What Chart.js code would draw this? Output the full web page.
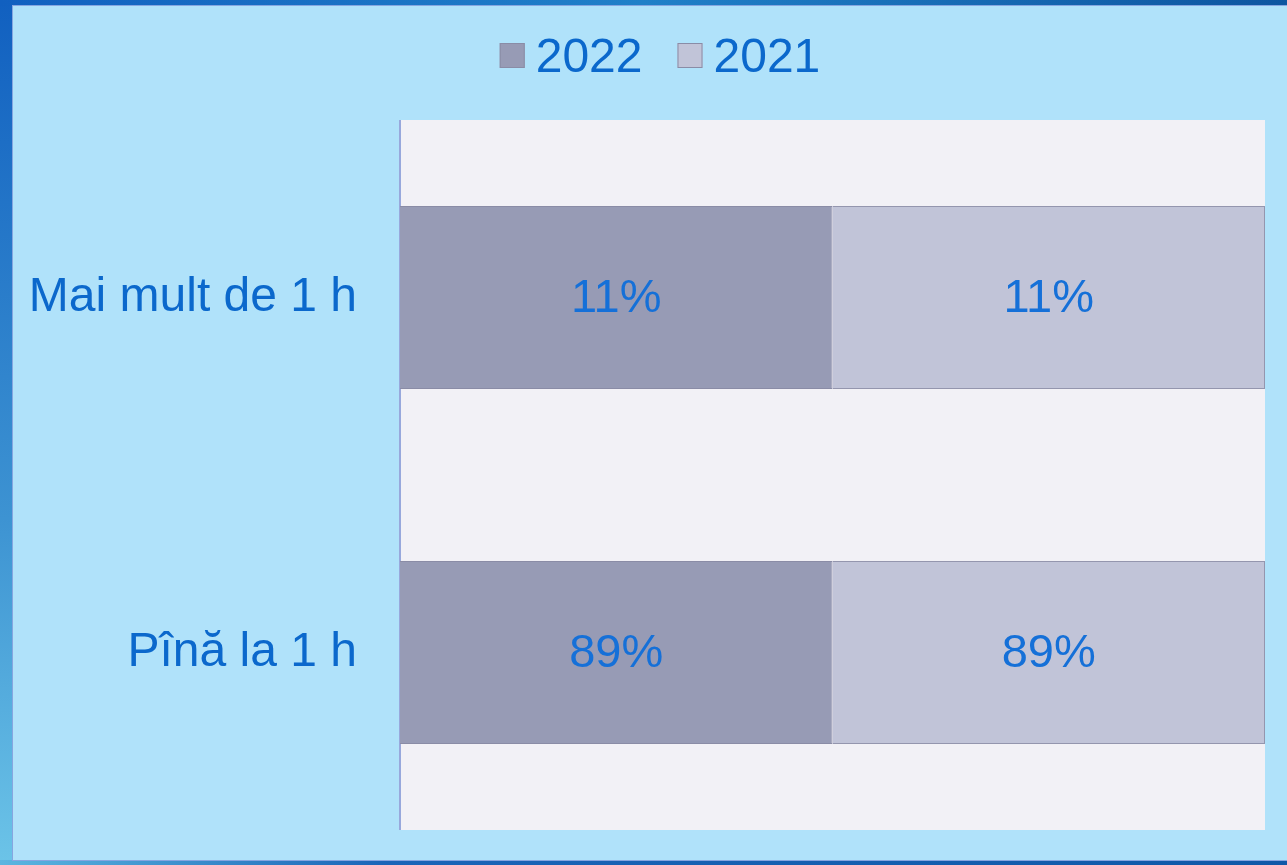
<!DOCTYPE html>
<html>
<head>
<meta charset="utf-8">
<script src="https://cdn.jsdelivr.net/npm/chart.js@4"></script>
<style>
    html, body { margin: 0; padding: 0; }
    body {
        width: 1287px; height: 865px; overflow: hidden; position: relative;
        background: linear-gradient(to bottom, #1160c0 0%, #3d93d2 60%, #6cc4e8 100%);
    }
    #topStrip {
        position: absolute; left: 0; top: 0; width: 1287px; height: 6px;
        background: linear-gradient(to right, #1160c0 0%, #2080c8 50%, #0d55a0 100%);
    }
    #bottomStrip {
        position: absolute; left: 0; top: 860px; width: 1287px; height: 5px;
        background: linear-gradient(to right, #5bb6e0 0%, #1a64b8 30%, #0f58a8 100%);
    }
    #panel {
        position: absolute; left: 12px; top: 5px; width: 1275px; height: 856px;
        background: #b0e2fa; border-left: 1px solid #86a6e0; border-top: 1px solid #86a6e0;
        border-bottom: 1px solid #86a6e0; box-sizing: border-box;
    }
    #durataChart { position: absolute; left: 13px; top: 6px; }
</style>
</head>
<body>
<div id="topStrip"></div>
<div id="bottomStrip"></div>
<div id="panel"></div>
<canvas id="durataChart" width="1274" height="853"></canvas>
<script>
// Chart data
var categories = ['Mai mult de 1 h', 'Pînă la 1 h'];
var values2022 = [11, 89];
var values2021 = [11, 89];
var seriesNames = ['2022', '2021'];
var seriesColors = ['#979bb5', '#c1c4d8'];

var textBlue = '#0b68cc';
var fontFamily = '"Liberation Sans", Arial, sans-serif';

// each row is drawn as 100% stacked, so share of the row
function rowShare(a, b) {
    return a.map(function (v, i) { return v / (v + b[i]) * 100; });
}

// Plot area background + left axis line
var plotBg = {
    id: 'plotBg',
    beforeDraw: function (chart) {
        var a = chart.chartArea, ctx = chart.ctx;
        ctx.save();
        ctx.fillStyle = '#f2f1f6';
        ctx.fillRect(a.left, a.top, a.right - a.left, a.bottom - a.top);
        ctx.strokeStyle = '#98a8dc';
        ctx.lineWidth = 2;
        ctx.beginPath();
        ctx.moveTo(a.left, a.top);
        ctx.lineTo(a.left, a.bottom);
        ctx.stroke();
        ctx.restore();
    }
};

// Legend drawn by hand (tighter box/text gap than the built-in one)
var topLegend = {
    id: 'topLegend',
    afterDraw: function (chart) {
        var ctx = chart.ctx;
        var box = 25, gap = 11, itemGap = 35;
        ctx.save();
        ctx.font = '48px ' + fontFamily;
        var total = 0;
        chart.data.datasets.forEach(function (ds, i) {
            total += box + gap + ctx.measureText(ds.label).width;
            if (i > 0) total += itemGap;
        });
        var x = chart.width / 2 + 10 - total / 2;
        ctx.textBaseline = 'alphabetic';
        chart.data.datasets.forEach(function (ds) {
            ctx.fillStyle = ds.backgroundColor;
            ctx.strokeStyle = '#8a8ca6';
            ctx.lineWidth = 1;
            ctx.fillRect(x, 37, box, box);
            ctx.strokeRect(x + 0.5, 37.5, box - 1, box - 1);
            x += box + gap;
            ctx.fillStyle = textBlue;
            ctx.fillText(ds.label, x, 66);
            x += ctx.measureText(ds.label).width + itemGap;
        });
        ctx.restore();
    }
};

// Value labels in the middle of each bar
var barLabels = {
    id: 'barLabels',
    afterDatasetsDraw: function (chart) {
        var ctx = chart.ctx;
        ctx.save();
        ctx.fillStyle = '#1570d8';
        ctx.font = '47px ' + fontFamily;
        ctx.textAlign = 'center';
        ctx.textBaseline = 'middle';
        chart.data.datasets.forEach(function (ds, di) {
            chart.getDatasetMeta(di).data.forEach(function (bar, i) {
                var cx = (bar.x + bar.base) / 2;
                ctx.fillText(ds.raw[i] + '%', cx, bar.y + 2);
            });
        });
        ctx.restore();
    }
};

var ctx = document.getElementById('durataChart').getContext('2d');
var durataChart = new Chart(ctx, {
    type: 'bar',
    data: {
        labels: categories,
        datasets: [{
            label: seriesNames[0],
            data: rowShare(values2022, values2021),
            raw: values2022,
            backgroundColor: seriesColors[0],
            borderColor: '#8a8ca6',
            borderWidth: 1
        }, {
            label: seriesNames[1],
            data: rowShare(values2021, values2022),
            raw: values2021,
            backgroundColor: seriesColors[1],
            borderColor: '#9496ae',
            borderWidth: 1
        }]
    },
    options: {
        indexAxis: 'y',
        responsive: false,
        animation: false,
        events: [],
        layout: { padding: { top: 114, right: 22, bottom: 29, left: 0 } },
        datasets: { bar: { categoryPercentage: 1, barPercentage: 0.515 } },
        scales: {
            x: { stacked: true, min: 0, max: 100, display: false },
            y: {
                stacked: true,
                grid: { display: false, drawTicks: false },
                border: { display: false },
                ticks: {
                    color: textBlue,
                    font: { size: 48, family: fontFamily },
                    padding: 43
                },
                afterFit: function (scale) {
                    scale.width = 387;
                    scale.paddingTop = 0;
                    scale.paddingBottom = 0;
                }
            }
        },
        plugins: {
            legend: { display: false },
            tooltip: { enabled: false }
        }
    },
    plugins: [plotBg, topLegend, barLabels]
});
</script>
</body>
</html>
